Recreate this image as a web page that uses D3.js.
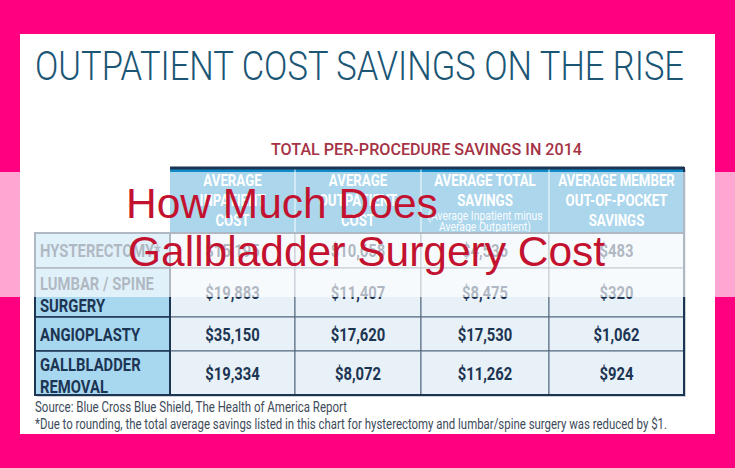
<!DOCTYPE html>
<html>
<head>
<meta charset="utf-8">
<script src="https://cdn.jsdelivr.net/npm/d3@7"></script>
<style>
  html, body { margin: 0; padding: 0; background: #ff0080; }
  svg { display: block; }
</style>
</head>
<body>
<svg id="chart" width="735" height="468"></svg>
<script>
// ---- data ----
const procedures = [["HYSTERECTOMY*"], ["LUMBAR / SPINE", "SURGERY"], ["ANGIOPLASTY"], ["GALLBLADDER", "REMOVAL"]];
const inpatientCost = [15195, 19883, 35150, 19334];
const outpatientCost = [10658, 11407, 17620, 8072];
const totalSavings = [4536, 8475, 17530, 11262];
const memberSavings = [483, 320, 1062, 924];
const columnHeaders = [
  ["AVERAGE", "INPATIENT", "COST"],
  ["AVERAGE", "OUTPATIENT", "COST"],
  ["AVERAGE TOTAL", "SAVINGS"],
  ["AVERAGE MEMBER", "OUT-OF-POCKET", "SAVINGS"]
];
const headerNotes = [[], [], ["(Average Inpatient minus", "Average Outpatient)"], []];
const titleText = "OUTPATIENT COST SAVINGS ON THE RISE";
const subtitleText = "TOTAL PER-PROCEDURE SAVINGS IN 2014";
const sourceText = "Source: Blue Cross Blue Shield, The Health of America Report";
const footnoteText = "*Due to rounding, the total average savings listed in this chart for hysterectomy and lumbar/spine surgery was reduced by $1.";
const overlayLines = ["How Much Does", "Gallbladder Surgery Cost"];

// ---- layout ----
const W = 735, H = 468;
const cond = "Roboto, 'Liberation Sans', sans-serif";
const navy = "#1c3553";
const colWidths = [135, 125, 126, 128, 135];
const rowHeights = [35, 49, 34, 44];
const tableX = 35, headerTop = 167, headerBottom = 233;

// narrow a text by a factor of its natural width (no condensed fonts installed)
function squeeze(sel, f) {
  sel.each(function () {
    const w = this.getComputedTextLength();
    d3.select(this).attr("textLength", w * f).attr("lengthAdjust", "spacingAndGlyphs");
  });
}

const svg = d3.select("#chart");

// panel
svg.append("rect").attr("x", 20).attr("y", 34).attr("width", 695).attr("height", 400).attr("fill", "#ffffff");

// title + subtitle
svg.append("text")
  .attr("x", 35).attr("y", 80)
  .attr("font-family", cond).attr("font-size", 41).attr("font-weight", 300)
  .attr("fill", "#1b5675")
  .attr("textLength", 649).attr("lengthAdjust", "spacingAndGlyphs")
  .text(titleText);

svg.append("text")
  .attr("x", 271).attr("y", 155)
  .attr("font-family", cond).attr("font-size", 16.5).attr("font-weight", 500)
  .attr("fill", "#a53245")
  .attr("textLength", 311).attr("lengthAdjust", "spacingAndGlyphs")
  .text(subtitleText);

// scales
const colEdges = [tableX].concat(Array.from(d3.cumsum(colWidths), d => d + tableX));
const valueCols = [0, 1, 2, 3];
const x = d3.scaleOrdinal().domain(valueCols).range(valueCols.map(i => colEdges[i + 1]));
const xw = i => colWidths[i + 1];
const rowEdges = [headerBottom].concat(Array.from(d3.cumsum(rowHeights), d => d + headerBottom));
const rows = d3.range(procedures.length);
const y = d3.scaleOrdinal().domain(rows).range(rows.map(i => rowEdges[i]));
const yh = i => rowHeights[i];
const fmt = d3.format("$,");
const series = [inpatientCost, outpatientCost, totalSavings, memberSavings];
const tableRight = colEdges[5], tableBottom = rowEdges[4];

const table = svg.append("g");

// shadow
table.append("rect")
  .attr("x", tableX + 2).attr("y", headerBottom + 2)
  .attr("width", tableRight - tableX).attr("height", tableBottom - headerBottom)
  .attr("fill", "#9aa3ad").attr("opacity", 0.5);
table.append("rect")
  .attr("x", colEdges[1] + 2).attr("y", headerTop + 2)
  .attr("width", tableRight - colEdges[1]).attr("height", headerBottom - headerTop)
  .attr("fill", "#9aa3ad").attr("opacity", 0.5);

// header cells
table.append("g").selectAll("rect").data(valueCols).join("rect")
  .attr("x", i => x(i)).attr("y", headerTop)
  .attr("width", i => xw(i)).attr("height", headerBottom - headerTop)
  .attr("fill", "#108ac8");

// header separators
table.append("g").selectAll("line").data([1, 2, 3]).join("line")
  .attr("x1", i => x(i)).attr("x2", i => x(i))
  .attr("y1", headerTop).attr("y2", headerBottom)
  .attr("stroke", "#e6f3fa").attr("stroke-width", 1);

// header text
valueCols.forEach(i => {
  const cx = x(i) + xw(i) / 2;
  table.append("g").selectAll("text").data(columnHeaders[i]).join("text")
    .attr("x", cx).attr("y", (d, k) => 180 + k * 20).attr("dy", "0.36em")
    .attr("text-anchor", "middle")
    .attr("font-family", cond).attr("font-weight", "bold").attr("font-size", 17)
    .attr("fill", "#ffffff")
    .text(d => d)
    .call(squeeze, 0.78);
  table.append("g").selectAll("text").data(headerNotes[i]).join("text")
    .attr("x", cx).attr("y", (d, k) => 215 + k * 11.5).attr("dy", "0.36em")
    .attr("text-anchor", "middle")
    .attr("font-family", cond).attr("font-size", 13)
    .attr("fill", "#eaf5fb")
    .text(d => d)
    .call(squeeze, 0.8);
});

// label cells
table.append("g").selectAll("rect").data(rows).join("rect")
  .attr("x", tableX).attr("y", i => y(i))
  .attr("width", colWidths[0]).attr("height", i => yh(i))
  .attr("fill", "#a8d8f0").attr("stroke", navy).attr("stroke-width", 1.5);

// data cells
rows.forEach(r => {
  table.append("g").selectAll("rect").data(valueCols).join("rect")
    .attr("x", i => x(i)).attr("y", y(r))
    .attr("width", i => xw(i)).attr("height", yh(r))
    .attr("fill", "#e8f1f7").attr("stroke", "#51677c").attr("stroke-width", 1);
  table.append("g").selectAll("text").data(valueCols).join("text")
    .attr("x", i => x(i) + xw(i) / 2).attr("y", y(r) + yh(r) / 2).attr("dy", "0.36em")
    .attr("text-anchor", "middle")
    .attr("font-family", cond).attr("font-weight", "bold").attr("font-size", 19)
    .attr("fill", navy)
    .text(i => fmt(series[i][r]))
    .call(squeeze, 0.78);
  const lines = procedures[r];
  table.append("g").selectAll("text").data(lines).join("text")
    .attr("x", tableX + 5)
    .attr("y", (d, k) => y(r) + yh(r) / 2 + (k - (lines.length - 1) / 2) * 22 + (lines.length > 1 ? 2 : 0))
    .attr("dy", "0.36em")
    .attr("font-family", cond).attr("font-weight", "bold").attr("font-size", 18.5)
    .attr("fill", navy)
    .text(d => d)
    .call(squeeze, 0.8);
});

// outer borders
table.append("line")
  .attr("x1", colEdges[1]).attr("x2", tableRight).attr("y1", headerTop + 1).attr("y2", headerTop + 1)
  .attr("stroke", navy).attr("stroke-width", 3);
table.append("rect")
  .attr("x", tableX).attr("y", headerBottom)
  .attr("width", tableRight - tableX).attr("height", tableBottom - headerBottom)
  .attr("fill", "none").attr("stroke", navy).attr("stroke-width", 2);
table.append("line")
  .attr("x1", tableRight).attr("x2", tableRight).attr("y1", headerTop).attr("y2", headerBottom)
  .attr("stroke", navy).attr("stroke-width", 2);
table.append("line")
  .attr("x1", colEdges[1]).attr("x2", colEdges[1]).attr("y1", headerBottom).attr("y2", tableBottom)
  .attr("stroke", navy).attr("stroke-width", 2);

// footer
svg.append("text")
  .attr("x", 35).attr("y", 407).attr("dy", "0.36em")
  .attr("font-family", cond).attr("font-size", 14.5).attr("fill", "#3d4b5a")
  .attr("textLength", 312).attr("lengthAdjust", "spacingAndGlyphs")
  .text(sourceText);
svg.append("text")
  .attr("x", 35).attr("y", 424).attr("dy", "0.36em")
  .attr("font-family", cond).attr("font-size", 14.5).attr("fill", "#3d4b5a")
  .attr("textLength", 632).attr("lengthAdjust", "spacingAndGlyphs")
  .text(footnoteText);

// translucent band + overlay headline
svg.append("rect")
  .attr("x", 0).attr("y", 172).attr("width", W).attr("height", 125)
  .attr("fill", "#ffffff").attr("opacity", 0.65);
svg.append("g").selectAll("text").data(overlayLines).join("text")
  .attr("x", (d, k) => 126 + k * 2).attr("y", (d, k) => 218 + k * 48)
  .attr("font-family", "'Liberation Sans', Arial, sans-serif").attr("font-size", 42.5)
  .attr("fill", "#c3122f")
  .text(d => d);
</script>
</body>
</html>
